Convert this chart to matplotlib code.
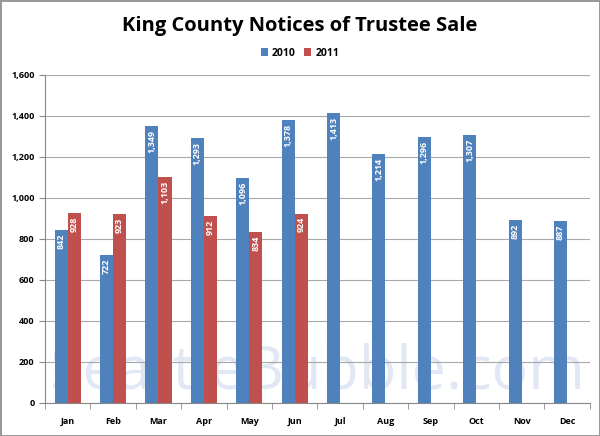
import matplotlib
matplotlib.use("Agg")
import matplotlib.pyplot as plt
import numpy as np
from matplotlib.ticker import FuncFormatter

months = ["Jan", "Feb", "Mar", "Apr", "May", "Jun", "Jul", "Aug", "Sep", "Oct", "Nov", "Dec"]
sales_2010 = [842, 722, 1349, 1293, 1096, 1378, 1413, 1214, 1296, 1307, 892, 887]
sales_2011 = [928, 923, 1103, 912, 834, 924]

blue = "#4F81BD"
red = "#C0504D"

plt.rcParams['font.family'] = ['Open Sans', 'DejaVu Sans']

fig = plt.figure(figsize=(6, 4.36), dpi=100)
fig.patch.set_edgecolor("#9a9a9a")
fig.patch.set_linewidth(2)
ax = fig.add_axes([0.075, 0.076, 0.908, 0.752])

x = np.arange(len(months))
w = 0.29
b1 = ax.bar(x - w / 2, sales_2010, w, color=blue, label="2010", zorder=3)
b2 = ax.bar(x[:len(sales_2011)] + w / 2, sales_2011, w, color=red, label="2011", zorder=3)

for bars in (b1, b2):
    for b in bars:
        v = b.get_height()
        ax.text(b.get_x() + b.get_width() / 2, v - 18, f"{v:,.0f}", rotation=90,
                ha="center", va="top", color="white", fontsize=6.5, fontweight="bold", zorder=4)

# watermark
ax.text(5.5, 150, "SeattleBubble.com", ha="center", va="center", fontsize=44,
        color="#E1E7F4", zorder=1, family="Open Sans")

ax.set_xlim(-0.5, 11.5)
ax.set_ylim(0, 1600)
ax.set_yticks(range(0, 1601, 200))
ax.yaxis.set_major_formatter(FuncFormatter(lambda v, p: f"{v:,.0f}"))
ax.set_xticks(x)
ax.set_xticklabels(months)
ax.set_xticks(np.arange(-0.5, 12, 1), minor=True)
ax.tick_params(axis="x", which="major", length=0, pad=10)
ax.tick_params(axis="x", which="minor", length=4, color="#888888")
ax.tick_params(axis="y", length=4, color="#888888")
for lab in ax.get_xticklabels() + ax.get_yticklabels():
    lab.set_fontsize(6.5)
    lab.set_fontweight("bold")

ax.grid(axis="y", color="#a8a8a8", linewidth=0.8, zorder=0)
for s in ["top", "right"]:
    ax.spines[s].set_visible(False)
ax.spines["left"].set_color("#888888")
ax.spines["bottom"].set_color("#888888")

fig.text(0.5, 0.94, "King County Notices of Trustee Sale", ha="center", va="center",
         fontsize=14.5, fontweight="bold")
fig.legend(loc="center", bbox_to_anchor=(0.5, 0.878), ncol=2, frameon=False,
           handlelength=0.7, handleheight=0.7, columnspacing=0.8,
           handletextpad=0.4, prop={"weight": "bold", "size": 7.5})

fig.savefig("out.png", dpi=100)
